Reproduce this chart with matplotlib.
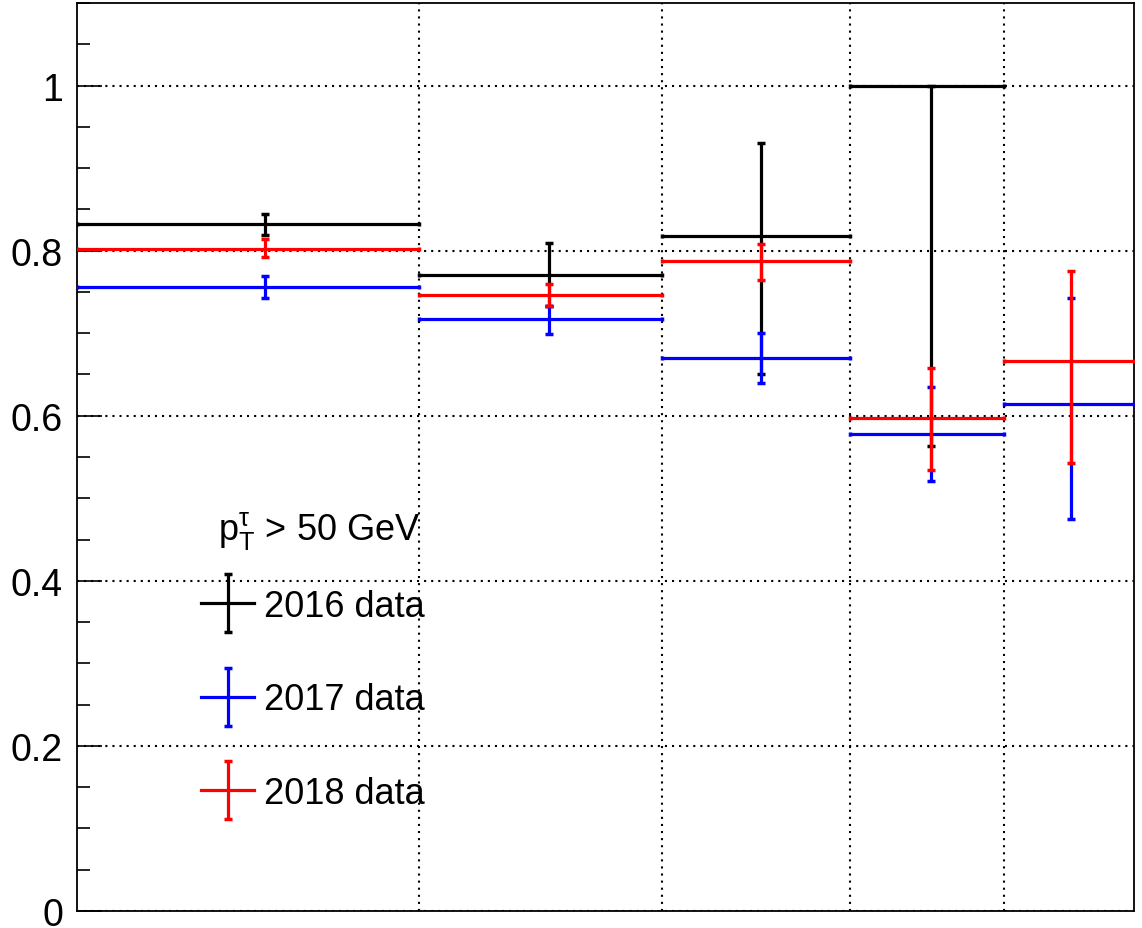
import matplotlib
matplotlib.use("Agg")
import matplotlib.pyplot as plt
from matplotlib.ticker import FixedLocator, MultipleLocator, NullFormatter, NullLocator
from matplotlib.lines import Line2D
from matplotlib.legend_handler import HandlerErrorbar, HandlerTuple

plt.rcParams['font.family'] = ['Liberation Sans', 'DejaVu Sans']
plt.rcParams['mathtext.fontset'] = 'custom'
plt.rcParams['mathtext.rm'] = 'Liberation Sans'
plt.rcParams['mathtext.it'] = 'Liberation Sans'

# ---- data ----
bin_low = [20, 30, 40, 50, 60]
bin_high = [30, 40, 50, 60, 70]
x_mean = [25, 35, 45, 55, 65]

eff_2016 = [0.832, 0.771, 0.818, 1.000]
err_lo_2016 = [0.0125, 0.0385, 0.167, 0.437]
err_hi_2016 = [0.0125, 0.0385, 0.112, 0.000]

eff_2017 = [0.7555, 0.7175, 0.6705, 0.578, 0.6145]
err_lo_2017 = [0.013, 0.019, 0.0305, 0.057, 0.140]
err_hi_2017 = [0.0135, 0.016, 0.030, 0.0565, 0.128]

eff_2018 = [0.802, 0.7467, 0.787, 0.5967, 0.6662]
err_lo_2018 = [0.010, 0.0137, 0.022, 0.063, 0.123]
err_hi_2018 = [0.0118, 0.0133, 0.021, 0.061, 0.109]

series = [
    ("2016 data", "black", eff_2016, err_lo_2016, err_hi_2016),
    ("2017 data", "#0000ff", eff_2017, err_lo_2017, err_hi_2017),
    ("2018 data", "#ff0000", eff_2018, err_lo_2018, err_hi_2018),
]
y_ticks = [0, 0.2, 0.4, 0.6, 0.8, 1.0]
y_tick_labels = ["0", "0.2", "0.4", "0.6", "0.8", "1"]
header = r"$\mathrm{p}_{\mathrm{T}}^{\tau}$ > 50 GeV"

fig = plt.figure(figsize=(11.42, 9.29), dpi=100)
ax = fig.add_axes([77/1142, 1-912/929, (1134-77)/1142, (912-4)/929])

handles = []
labels = []
for name, col, eff, elo, ehi in series:
    n = len(eff)
    xs = x_mean[:n]
    xl = [x - lo for x, lo in zip(xs, bin_low[:n])]
    xh = [hi - x for x, hi in zip(xs, bin_high[:n])]
    ax.errorbar(xs, eff, xerr=[xl, xh], fmt='none', ecolor=col,
                elinewidth=2.3, capsize=1.6, capthick=2.5, zorder=3)
    cont = ax.errorbar(xs, eff, yerr=[elo, ehi], fmt='none', ecolor=col,
                       elinewidth=2.3, capsize=3.0, capthick=2.5, zorder=3)
    hline = Line2D([], [], color=col, lw=2.3)
    handles.append((hline, cont))
    labels.append(name)

ax.set_xscale('log')
ax.set_xlim(bin_low[0], bin_high[-1])
ax.set_ylim(0, 1.1)
ax.xaxis.set_major_locator(FixedLocator(bin_low[1:]))
ax.xaxis.set_minor_locator(NullLocator())
ax.xaxis.set_major_formatter(NullFormatter())
ax.xaxis.set_minor_formatter(NullFormatter())
ax.tick_params(axis='x', which='both', length=0)

ax.set_yticks(y_ticks)
ax.set_yticklabels(y_tick_labels)
ax.yaxis.set_minor_locator(MultipleLocator(0.05))
ax.tick_params(axis='y', which='major', direction='in', length=18, width=1.2,
               labelsize=27, pad=10)
ax.tick_params(axis='y', which='minor', direction='in', length=9, width=1.2)

ax.grid(True, which='major', color='black', linestyle=(0, (1, 2.4)), lw=1.5)
ax.set_axisbelow(True)
for s in ax.spines.values():
    s.set_linewidth(1.3)

leg = ax.legend(handles, labels,
                handler_map={tuple: HandlerTuple(ndivide=1, pad=0),
                             type(handles[0][1]): HandlerErrorbar(yerr_size=0.8)},
                loc='center left', bbox_to_anchor=(0.1173, (912-701)/908),
                frameon=False, fontsize=26,
                handlelength=1.47, handletextpad=0.28,
                labelspacing=1.62, borderpad=0, borderaxespad=0)

ax.text((218-77)/1057, (912-540)/908, header, transform=ax.transAxes,
        ha='left', va='baseline', fontsize=26)

fig.text(1135/1142, 1 + 7/929, "(13 TeV)", ha='right', va='baseline', fontsize=22)

fig.savefig("out.png", dpi=100)
